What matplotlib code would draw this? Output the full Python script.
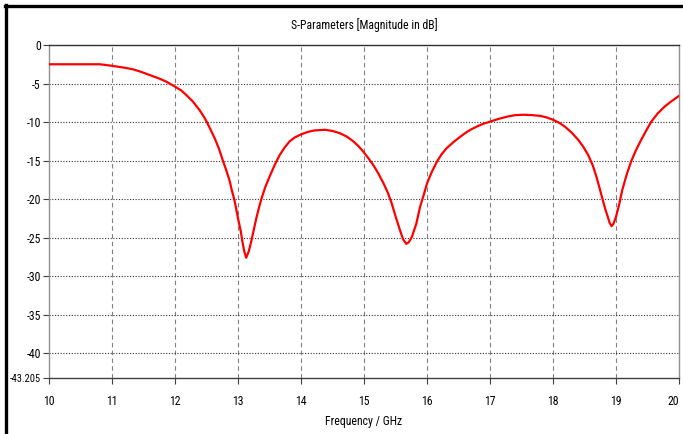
import matplotlib
matplotlib.use("Agg")
import matplotlib.pyplot as plt
from matplotlib.lines import Line2D

# S11 curve (GHz, dB)
freq = [10.0, 10.2, 10.4, 10.6, 10.81, 11.0, 11.2, 11.33, 11.45, 11.6,
        11.75, 11.86, 12.0, 12.1, 12.18, 12.28, 12.39, 12.45, 12.49, 12.56,
        12.63, 12.7, 12.76, 12.82, 12.87, 12.9, 12.94, 12.97, 13.0, 13.04,
        13.07, 13.1, 13.13, 13.17, 13.21, 13.25, 13.29, 13.33, 13.37, 13.43,
        13.5, 13.58, 13.66, 13.74, 13.82, 13.9, 14.0, 14.1, 14.2, 14.28,
        14.38, 14.5, 14.62, 14.73, 14.83, 14.91, 14.99, 15.07, 15.15, 15.23,
        15.31, 15.38, 15.44, 15.5, 15.57, 15.62, 15.67, 15.71, 15.76, 15.83,
        15.89, 15.95, 16.0, 16.08, 16.16, 16.23, 16.31, 16.42, 16.52, 16.62,
        16.7, 16.8, 16.9, 17.0, 17.13, 17.27, 17.4, 17.53, 17.67, 17.8,
        17.9, 18.0, 18.1, 18.19, 18.3, 18.4, 18.48, 18.56, 18.63, 18.69,
        18.74, 18.79, 18.83, 18.87, 18.9, 18.93, 18.96, 19.0, 19.05, 19.1,
        19.17, 19.24, 19.32, 19.4, 19.48, 19.56, 19.66, 19.77, 19.88, 20.0]
s11_db = [-2.5, -2.5, -2.5, -2.5, -2.5, -2.7, -2.95, -3.15, -3.45, -3.9,
          -4.35, -4.75, -5.4, -5.9, -6.5, -7.3, -8.45, -9.2, -9.75, -10.9,
          -12.1, -13.5, -15.0, -16.4, -17.7, -18.8, -20.0, -21.2, -22.5, -24.0,
          -25.5, -26.8, -27.6, -26.8, -25.5, -24.0, -22.5, -21.2, -20.0, -18.5,
          -17.1, -15.6, -14.3, -13.3, -12.5, -12.0, -11.6, -11.3, -11.1, -11.05,
          -11.0, -11.15, -11.45, -11.9, -12.5, -13.1, -13.85, -14.7, -15.6, -16.7,
          -17.95, -19.2, -20.55, -22.2, -24.0, -25.2, -25.8, -25.6, -24.9, -23.2,
          -21.0, -19.4, -17.95, -16.4, -15.1, -14.2, -13.4, -12.6, -11.95, -11.35,
          -10.95, -10.55, -10.2, -9.95, -9.6, -9.3, -9.1, -9.05, -9.1, -9.2,
          -9.4, -9.7, -10.1, -10.6, -11.4, -12.3, -13.2, -14.3, -15.6, -17.1,
          -18.6, -20.1, -21.3, -22.3, -23.1, -23.5, -23.2, -22.3, -20.7, -18.8,
          -16.8, -15.1, -13.6, -12.3, -11.1, -9.95, -8.9, -8.0, -7.3, -6.6]

xticks = list(range(10, 21))
yticks = [0, -5, -10, -15, -20, -25, -30, -35, -40, -43.205]
ytick_labels = ["0", "-5", "-10", "-15", "-20", "-25", "-30", "-35", "-40", "-43.205"]

plt.rcParams['font.family'] = ['Roboto Condensed', 'Liberation Sans Narrow', 'Liberation Sans']

fig = plt.figure(figsize=(6.83, 4.34), dpi=100)
ax = fig.add_axes([49 / 683, 1 - 378 / 434, 630 / 683, 333 / 434])

ax.plot(freq, s11_db, color='#ff0000', lw=1.6, zorder=3)

ax.set_xlim(10, 20)
ax.set_ylim(-43.205, 0)
ax.set_xticks(xticks)
ax.set_yticks(yticks)
ax.set_yticklabels(ytick_labels)
ax.tick_params(labelsize=8.5, length=4, width=0.8, color='#404040', pad=2)
ax.tick_params(axis='x', pad=8)
# the odd bottom limit label is squeezed in the reference
ax.get_yticklabels()[-1].set_fontsize(7.5)
ax.get_xticklabels()[-1].set_horizontalalignment('right')
ax.get_xticklabels()[-1].set_x(20.04)

# grid: dashed verticals, dotted horizontals
for x in xticks[1:-1]:
    ax.axvline(x, color='#808080', lw=0.8, ls=(0, (4, 3)), zorder=1)
for y in yticks[1:-1]:
    ax.axhline(y, color='#303030', lw=0.8, ls=(0, (1, 1.5)), zorder=1)

ax.spines['top'].set_color('#303030')
ax.spines['bottom'].set_color('#404040')
ax.spines['left'].set_color('#909090')
ax.spines['right'].set_color('#909090')
for s in ax.spines.values():
    s.set_linewidth(1.0)

ax.set_xlabel("Frequency / GHz", fontsize=8.5, labelpad=5)
fig.text(364 / 683, 1 - 25 / 434, "S-Parameters [Magnitude in dB]",
         ha='center', va='center', fontsize=8.5)

# thick outer frame (left and top edges)
fig.add_artist(Line2D([5.5 / 683, 5.5 / 683], [0, 1 - 5 / 434],
                      color='black', lw=2.4, transform=fig.transFigure))
fig.add_artist(Line2D([4.5 / 683, 1], [1 - 6 / 434, 1 - 6 / 434],
                      color='black', lw=2.4, transform=fig.transFigure))

fig.savefig("out.png", dpi=100)
